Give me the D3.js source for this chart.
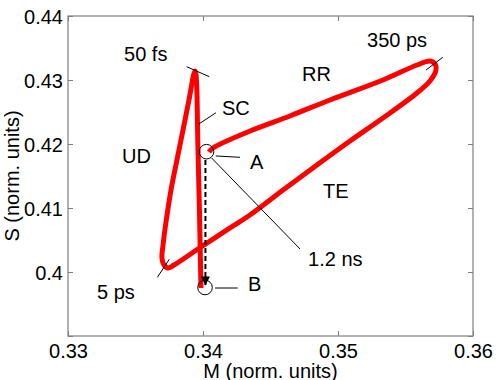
<!DOCTYPE html>
<html>
<head>
<meta charset="utf-8">
<script src="https://cdn.jsdelivr.net/npm/d3@7"></script>
<style>
html,body{margin:0;padding:0;background:#fff;}
svg text{font-family:"Liberation Sans",Arial,Helvetica,sans-serif;fill:#000;}
</style>
</head>
<body>
<svg id="chart" width="498" height="380"></svg>
<script>
// ---- data ----
const xTicks = [0.33, 0.34, 0.35, 0.36];
const yTicks = [0.39, 0.40, 0.41, 0.42, 0.43, 0.44];
const xTickLabels = ["0.33", "0.34", "0.35", "0.36"];
const yTickLabels = ["", "0.4", "0.41", "0.42", "0.43", "0.44"];

// trajectory: B -> SC -> 50 fs -> UD -> 5 ps -> TE -> 350 ps -> RR -> A (1.2 ns)
const curveM = [0.33985,0.33963,0.33941,0.33896,0.33852,0.33807,0.33763,0.33726,0.33704,0.33696,0.33711,0.33741,0.33785,
  0.33985,0.34200,0.34348,0.34593,0.34844,0.35089,0.35333,0.35585,0.35681,0.35726,0.35719,0.35681,
  0.35585,0.35333,0.34941,0.34644,0.34348,0.34074,0.34044];
const curveS = [0.39750,0.41906,0.43141,0.42688,0.42219,0.41750,0.41281,0.40781,0.40422,0.40219,0.40109,0.40063,0.40109,
  0.40391,0.40688,0.40891,0.41281,0.41672,0.42047,0.42406,0.42797,0.42984,0.43156,0.43250,0.43297,
  0.43234,0.43000,0.42688,0.42438,0.42203,0.41938,0.41875];

const labelText = ["50 fs","SC","UD","RR","350 ps","A","TE","1.2 ns","B","5 ps"];
const labelM = [0.33415,0.34141,0.33400,0.34733,0.35215,0.34348,0.34889,0.34778,0.34333,0.33215];
const labelS = [0.43297,0.42453,0.41703,0.42984,0.43516,0.41609,0.41156,0.40094,0.39703,0.39578];

// thin annotation segments: [M1,S1,M2,S2]
const segM1 = [0.33879,0.33662,0.35652,0.33970,0.34094,0.34064,0.34089];
const segS1 = [0.43208,0.39917,0.43156,0.42313,0.41813,0.41781,0.39750];
const segM2 = [0.34047,0.33750,0.35776,0.34096,0.34274,0.34719,0.34257];
const segS2 = [0.43052,0.40198,0.43355,0.42489,0.41792,0.40359,0.39750];

const circleM = [0.34026, 0.34015];
const circleS = [0.41880, 0.39758];
const arrowM = [0.34018, 0.34018];
const arrowS = [0.41750, 0.39789];

// ---- layout ----
const svg = d3.select("#chart");
const pL = 68, pR = 473, pT = 16, pB = 336;
const x = d3.scaleLinear().domain([0.33, 0.36]).range([pL, pR]);
const y = d3.scaleLinear().domain([0.39, 0.44]).range([pB, pT]);
const axisColor = "#7f7f7f";
const fs = 20;

svg.append("rect").attr("width",498).attr("height",380).attr("fill","#fff");

// axes box
svg.append("rect").attr("x",pL).attr("y",pT).attr("width",pR-pL).attr("height",pB-pT)
  .attr("fill","none").attr("stroke",axisColor).attr("stroke-width",1.2);

const tl = 5;
const g = svg.append("g");
const xb = d3.axisBottom(x).tickValues(xTicks).tickSizeInner(-tl).tickSizeOuter(0).tickFormat((d,i)=>xTickLabels[i]);
const xt = d3.axisTop(x).tickValues(xTicks).tickSizeInner(-tl).tickSizeOuter(0).tickFormat("");
const yl = d3.axisLeft(y).tickValues(yTicks).tickSizeInner(-tl).tickSizeOuter(0).tickFormat((d,i)=>yTickLabels[i]);
const yr = d3.axisRight(y).tickValues(yTicks).tickSizeInner(-tl).tickSizeOuter(0).tickFormat("");

function style(sel){
  sel.select(".domain").remove();
  sel.selectAll(".tick line").attr("stroke",axisColor).attr("stroke-width",1);
  sel.selectAll(".tick text").attr("font-size",fs).attr("fill","#000")
     .attr("font-family",'"Liberation Sans",Arial,sans-serif');
}
g.append("g").attr("transform",`translate(0,${pB})`).call(xb).call(style)
  .selectAll(".tick text").attr("dy",null).attr("y",22);
g.append("g").attr("transform",`translate(0,${pT})`).call(xt).call(style);
g.append("g").attr("transform",`translate(${pL},0)`).call(yl).call(style)
  .selectAll(".tick text").attr("x",-5).attr("dy","0.35em");
g.append("g").attr("transform",`translate(${pR},0)`).call(yr).call(style);

// axis labels
svg.append("text").attr("x",(pL+pR)/2).attr("y",377.5).attr("text-anchor","middle")
  .attr("font-size",fs).text("M (norm. units)");
svg.append("text").attr("transform",`translate(18.5,${(pT+pB)/2}) rotate(-90)`)
  .attr("text-anchor","middle").attr("font-size",fs).text("S (norm. units)");

// trajectory
const pts = curveM.map((m,i)=>[m,curveS[i]]);
const line = d3.line().x(d=>x(d[0])).y(d=>y(d[1])).curve(d3.curveCatmullRom.alpha(0.5));
svg.append("path").attr("d",line(pts)).attr("fill","none").attr("stroke","#ff0000")
  .attr("stroke-width",5).attr("stroke-linejoin","round").attr("stroke-linecap","butt");

// annotation segments
segM1.forEach((m,i)=>{
  svg.append("line").attr("x1",x(m)).attr("y1",y(segS1[i])).attr("x2",x(segM2[i])).attr("y2",y(segS2[i]))
    .attr("stroke","#000").attr("stroke-width",1);
});

// dashed arrow A -> B
svg.append("defs").append("marker").attr("id","arr").attr("viewBox","0 0 10 10")
  .attr("refX",10).attr("refY",5).attr("markerUnits","userSpaceOnUse")
  .attr("markerWidth",12).attr("markerHeight",9).attr("orient","auto")
  .append("path").attr("d","M0,0 L10,5 L0,10 Z").attr("fill","#000");
svg.append("line").attr("x1",x(arrowM[0])).attr("y1",y(arrowS[0])).attr("x2",x(arrowM[1])).attr("y2",y(arrowS[1]))
  .attr("stroke","#000").attr("stroke-width",2).attr("stroke-dasharray","5,3").attr("marker-end","url(#arr)");

// circles
circleM.forEach((m,i)=>{
  svg.append("circle").attr("cx",x(m)).attr("cy",y(circleS[i])).attr("r",7.3)
    .attr("fill","none").attr("stroke","#000").attr("stroke-width",1);
});

// labels
labelText.forEach((t,i)=>{
  svg.append("text").attr("x",x(labelM[i])).attr("y",y(labelS[i])).attr("font-size",fs).text(t);
});
</script>
</body>
</html>
